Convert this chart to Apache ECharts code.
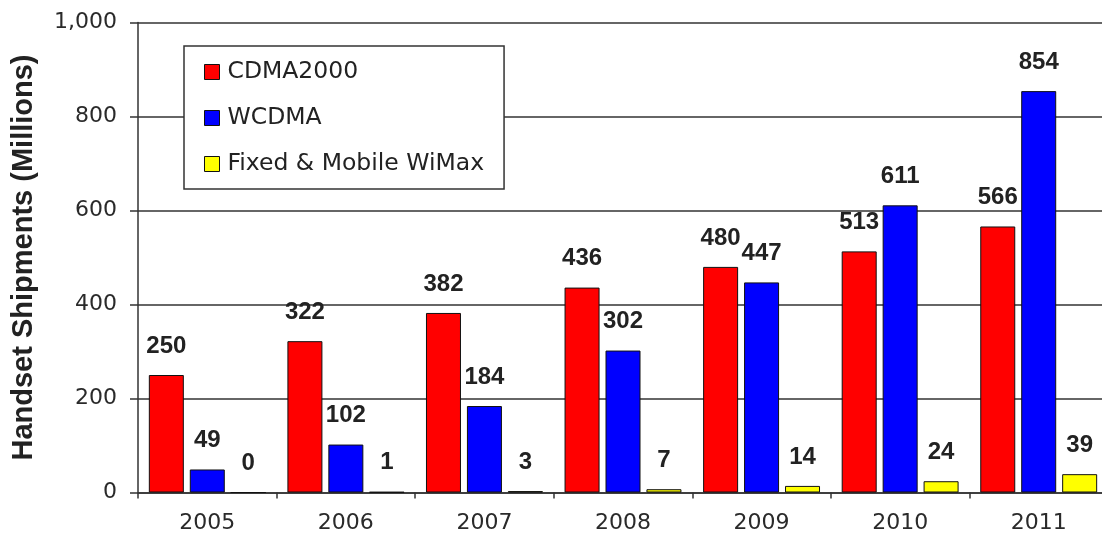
<!DOCTYPE html>
<html>
<head>
<meta charset="utf-8">
<script src="https://cdn.jsdelivr.net/npm/echarts@6/dist/echarts.min.js"></script>
<style>html,body{margin:0;padding:0;background:#fff}#c{width:1102px;height:541px}</style>
</head>
<body>
<div id="c"></div>
<script>
var years = ['2005','2006','2007','2008','2009','2010','2011'];
var cdma2000 = [250, 322, 382, 436, 480, 513, 566];
var wcdma = [49, 102, 184, 302, 447, 611, 854];
var wimax = [0, 1, 3, 7, 14, 24, 39];
var seriesNames = ['CDMA2000', 'WCDMA', 'Fixed & Mobile WiMax'];
var colors = ['#ff0000', '#0000ff', '#ffff00'];

var chart = echarts.init(document.getElementById('c'));
function mk(name, data, color) {
  return {
    name: name, type: 'bar', data: data,
    barWidth: 35, barGap: '17%',
    itemStyle: { color: color, borderColor: '#111', borderWidth: 1 },
    label: { show: true, position: 'top', distance: 17, color: '#222',
      fontFamily: 'Liberation Sans', fontWeight: 'bold', fontSize: 24 }
  };
}
chart.setOption({
  animation: false,
  backgroundColor: '#fff',
  grid: { left: 138, right: -6, top: 22.5, bottom: 48.5, outerBoundsMode: 'none', containLabel: false },
  legend: {
    orient: 'vertical', left: 184, top: 46,
    padding: [14, 20, 13, 20],
    itemGap: 22, itemWidth: 15, itemHeight: 15,
    backgroundColor: '#fff', borderColor: '#333', borderWidth: 1.5,
    icon: 'rect',
    textStyle: { fontFamily: 'DejaVu Sans', fontSize: 23.5, color: '#222', padding: [0, 0, 0, 3] },
    itemStyle: { borderColor: '#111', borderWidth: 1 },
    data: seriesNames
  },
  xAxis: {
    type: 'category', data: years,
    axisLine: { lineStyle: { color: '#333', width: 1.5 } },
    axisTick: { show: true, length: 6, lineStyle: { color: '#333', width: 1.5 } },
    axisLabel: { margin: 20, fontFamily: 'DejaVu Sans', fontSize: 22, color: '#2a2a2a' }
  },
  yAxis: {
    type: 'value', min: 0, max: 1000, interval: 200,
    name: 'Handset Shipments (Millions)', nameLocation: 'middle', nameGap: 100,
    nameTextStyle: { fontFamily: 'Liberation Sans', fontWeight: 'bold', fontSize: 29, color: '#222' },
    axisLine: { show: true, lineStyle: { color: '#333', width: 1.5 } },
    axisTick: { show: true, inside: false, length: 8, lineStyle: { color: '#333', width: 1.5 } },
    axisLabel: { margin: 21, fontFamily: 'DejaVu Sans', fontSize: 22, color: '#2a2a2a',
      formatter: function (v) { return v.toLocaleString('en-US'); } },
    splitLine: { show: true, lineStyle: { color: '#333', width: 1.5 } }
  },
  series: [mk(seriesNames[0], cdma2000, colors[0]), mk(seriesNames[1], wcdma, colors[1]), mk(seriesNames[2], wimax, colors[2])]
});
</script>
</body>
</html>
